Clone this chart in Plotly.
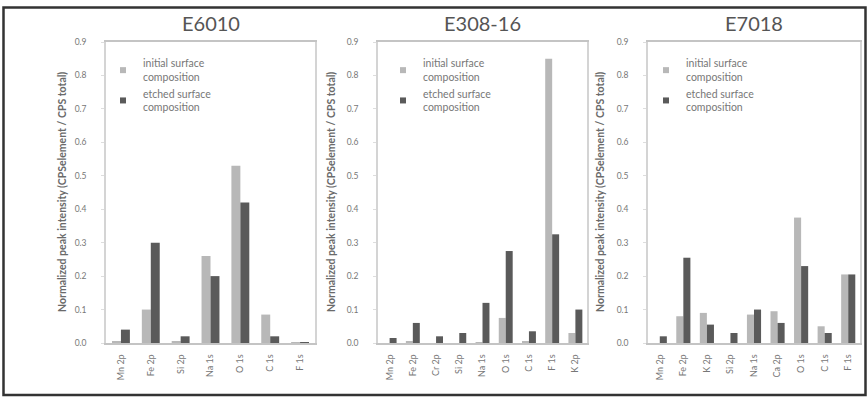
import plotly.graph_objects as go

# ---- data ----
titles = ["E6010", "E308-16", "E7018"]

cats1 = ["Mn 2p", "Fe 2p", "Si 2p", "Na 1s", "O 1s", "C 1s", "F 1s"]
init1 = [0.005, 0.10, 0.005, 0.26, 0.53, 0.085, 0.003]
etch1 = [0.04, 0.30, 0.02, 0.20, 0.42, 0.02, 0.002]

cats2 = ["Mn 2p", "Fe 2p", "Cr 2p", "Si 2p", "Na 1s", "O 1s", "C 1s", "F 1s", "K 2p"]
init2 = [0.0, 0.005, 0.0, 0.0, 0.003, 0.075, 0.005, 0.85, 0.03]
etch2 = [0.015, 0.06, 0.02, 0.03, 0.12, 0.275, 0.035, 0.325, 0.10]

cats3 = ["Mn 2p", "Fe 2p", "K 2p", "Si 2p", "Na 1s", "Ca 2p", "O 1s", "C 1s", "F 1s"]
init3 = [0.0, 0.08, 0.09, 0.0, 0.085, 0.095, 0.375, 0.05, 0.205]
etch3 = [0.02, 0.255, 0.055, 0.03, 0.10, 0.06, 0.23, 0.03, 0.205]

yticks = [0.0, 0.1, 0.2, 0.3, 0.4, 0.5, 0.6, 0.7, 0.8, 0.9]
ytext = ["0.0", "0.1", "0.2", "0.3", "0.4", "0.5", "0.6", "0.7", "0.8", "0.9"]

series_names = ["initial surface<br>composition", "etched surface<br>composition"]
y_title = "Normalized peak intensity (CPSelement / CPS total)"

# ---- styling / layout ----
W, H = 868, 397
C_INIT = "#b8b8b8"
C_ETCH = "#5a5a5a"
TXT = "#777777"
FONT = "Lato"

panels = [
    dict(cats=cats1, init=init1, etch=etch1, x0=106, x1=315, leg_x=103, ytl_x=62),
    dict(cats=cats2, init=init2, etch=etch2, x0=378, x1=587, leg_x=383, ytl_x=331),
    dict(cats=cats3, init=init3, etch=etch3, x0=648, x1=860, leg_x=646, ytl_x=600),
]
y_top, y_bot = 42, 343

fig = go.Figure()
layout = dict(
    width=W, height=H,
    margin=dict(l=0, r=0, t=0, b=0, autoexpand=False),
    paper_bgcolor="white", plot_bgcolor="white",
    barmode="group", bargap=0.4, bargroupgap=0.0,
    font=dict(family=FONT, color=TXT),
    annotations=[], shapes=[],
)

for i, p in enumerate(panels):
    idx = "" if i == 0 else str(i + 1)
    xa, ya = "x" + idx, "y" + idx
    leg = "legend" + idx
    for name, vals, col in [(series_names[0], p["init"], C_INIT), (series_names[1], p["etch"], C_ETCH)]:
        fig.add_trace(go.Bar(
            x=p["cats"], y=vals, name=name, marker=dict(color=col, line=dict(width=0)),
            xaxis=xa, yaxis=ya, showlegend=False, offsetgroup=name,
        ))
        # small square legend swatch
        fig.add_trace(go.Scatter(
            x=[None], y=[None], mode="markers", name=name,
            marker=dict(symbol="square", size=6, color=col),
            xaxis=xa, yaxis=ya, legend=leg, showlegend=True,
        ))
    layout["xaxis" + idx] = dict(
        domain=[p["x0"] / W, p["x1"] / W], anchor=ya, automargin=False,
        tickangle=-90, tickfont=dict(size=9, color=TXT, family=FONT),
        showline=True, linecolor="#c4c4c4", linewidth=1.5, mirror=True,
        ticks="", showgrid=False, ticklabelstandoff=6,
    )
    layout["yaxis" + idx] = dict(
        domain=[1 - y_bot / H, 1 - y_top / H], anchor=xa, range=[0, 0.9], automargin=False,
        tickvals=yticks, ticktext=ytext,
        tickfont=dict(size=8.5, color=TXT, family=FONT),
        showline=True, linecolor="#d4d4d4", linewidth=1.5, mirror=True,
        ticks="outside", ticklen=3, tickcolor="#dddddd", tickwidth=1,
        showgrid=False, zeroline=False, ticklabelstandoff=13,
    )
    layout[leg] = dict(
        x=p["leg_x"] / W, y=1 - 50 / H, xanchor="left", yanchor="top",
        xref="paper", yref="paper",
        bgcolor="rgba(0,0,0,0)", font=dict(size=10.5, color=TXT, family=FONT),
        tracegroupgap=4, itemwidth=30,
    )
    layout["annotations"].append(dict(
        text=titles[i], x=(p["x0"] + p["x1"]) / 2 / W, y=1 - 23 / H,
        xref="paper", yref="paper", showarrow=False,
        xanchor="center", yanchor="middle",
        font=dict(size=20, color="#555555", family=FONT),
    ))
    layout["annotations"].append(dict(
        text="<b>" + y_title + "</b>", x=p["ytl_x"] / W, y=1 - 192 / H,
        xref="paper", yref="paper", showarrow=False, textangle=-90,
        xanchor="center", yanchor="middle",
        font=dict(size=10.5, color="#6a6a6a", family=FONT),
    ))

layout["shapes"].append(dict(
    type="rect", xref="paper", yref="paper",
    x0=3.5 / W, x1=865.5 / W, y0=1 - 395 / H, y1=1 - 7.5 / H,
    line=dict(color="#333333", width=2.5), fillcolor="rgba(0,0,0,0)",
))

fig.update_layout(**layout)
fig.write_html("out.html", config={"displayModeBar": False},
               post_script="document.body.style.margin='0';")
